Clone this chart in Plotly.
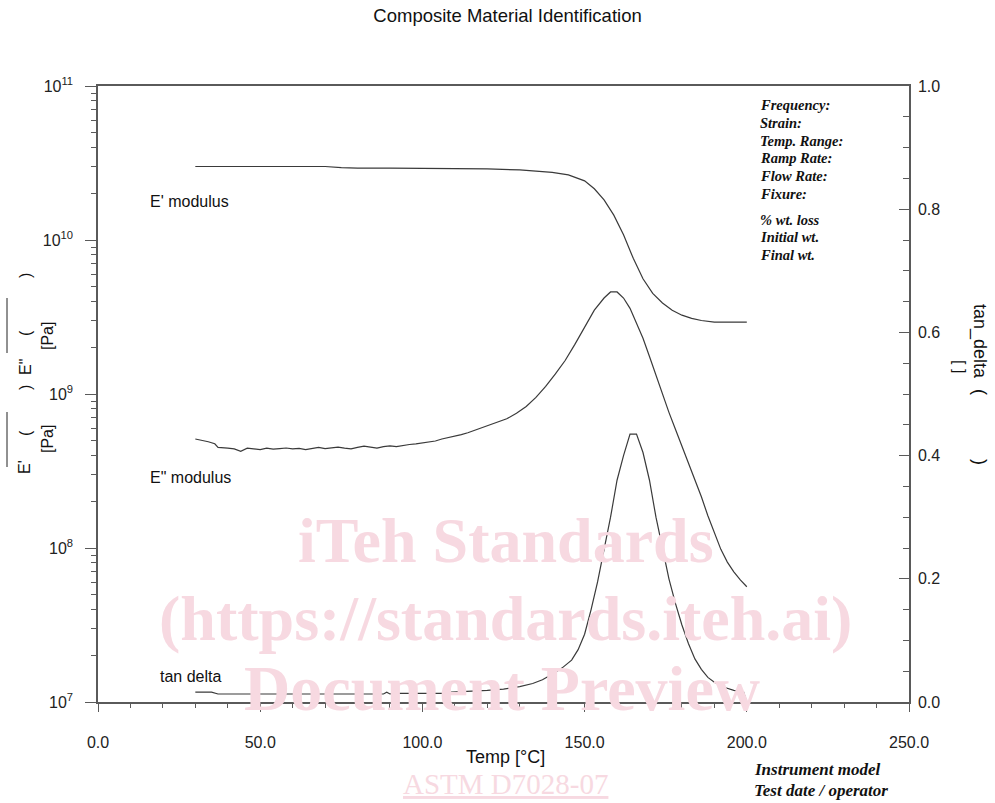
import plotly.graph_objects as go

# ---------------- data ----------------
temp_ep = [30, 40, 50, 60, 70, 75, 80, 90, 100, 110, 120, 130, 135, 140, 145, 150, 153, 156,
           159, 162, 165, 168, 171, 174, 177, 180, 183, 186, 190, 195, 200]
e_prime = [3.0e10, 3.0e10, 3.0e10, 3.0e10, 3.0e10, 2.95e10, 2.93e10, 2.93e10, 2.92e10, 2.92e10,
           2.9e10, 2.85e10, 2.8e10, 2.75e10, 2.65e10, 2.42e10, 2.15e10, 1.82e10, 1.45e10, 1.08e10,
           7.6e9, 5.6e9, 4.5e9, 3.9e9, 3.5e9, 3.25e9, 3.1e9, 3.0e9, 2.93e9, 2.93e9, 2.93e9]

temp_epp = [30, 32, 34, 36, 37, 40, 42, 44, 46, 48, 50, 52, 54, 56, 58, 60, 62, 64, 66, 68, 70,
            72, 74, 76, 78, 80, 82, 84, 86, 88, 90, 92, 94, 96, 98, 100, 102, 104, 106, 108, 110,
            112, 114, 116, 118, 120, 123, 126, 129, 132, 135, 138, 141, 144, 147, 150, 153, 156,
            158, 160, 162, 164, 166, 168, 170, 172, 174, 176, 178, 180, 182, 184, 186, 188, 190,
            192, 194, 196, 198, 200]
e_dprime = [5.1e8, 5.0e8, 4.9e8, 4.75e8, 4.5e8, 4.45e8, 4.4e8, 4.25e8, 4.45e8, 4.4e8, 4.35e8,
            4.45e8, 4.38e8, 4.42e8, 4.46e8, 4.4e8, 4.43e8, 4.36e8, 4.45e8, 4.5e8, 4.42e8, 4.47e8,
            4.52e8, 4.45e8, 4.4e8, 4.5e8, 4.58e8, 4.52e8, 4.45e8, 4.55e8, 4.6e8, 4.55e8, 4.65e8,
            4.7e8, 4.75e8, 4.8e8, 4.9e8, 4.95e8, 5.1e8, 5.2e8, 5.35e8, 5.45e8, 5.6e8, 5.8e8,
            5.95e8, 6.2e8, 6.5e8, 6.9e8, 7.5e8, 8.3e8, 9.5e8, 1.12e9, 1.35e9, 1.65e9, 2.1e9,
            2.7e9, 3.5e9, 4.2e9, 4.6e9, 4.6e9, 4.2e9, 3.6e9, 2.9e9, 2.3e9, 1.75e9, 1.32e9, 1.0e9,
            7.6e8, 5.9e8, 4.6e8, 3.6e8, 2.8e8, 2.15e8, 1.62e8, 1.25e8, 9.8e7, 8.1e7, 7.0e7,
            6.2e7, 5.6e7]

temp_tan = [30, 35, 37, 40, 50, 60, 70, 80, 88, 89, 90, 91, 100, 108, 109, 115, 120, 125, 130,
            134, 137, 140, 143, 146, 148, 150, 152, 154, 156, 158, 160, 162, 164, 166, 168, 170,
            172, 174, 176, 178, 180, 182, 184, 186, 188, 190, 193, 196, 199, 200]
tan_delta = [0.016, 0.016, 0.013, 0.013, 0.013, 0.013, 0.013, 0.013, 0.013, 0.016, 0.013, 0.014,
             0.014, 0.014, 0.016, 0.017, 0.019, 0.021, 0.025, 0.030, 0.036, 0.045, 0.055, 0.068,
             0.085, 0.110, 0.150, 0.195, 0.245, 0.300, 0.360, 0.400, 0.435, 0.435, 0.405, 0.360,
             0.300, 0.250, 0.200, 0.160, 0.125, 0.095, 0.070, 0.053, 0.040, 0.032, 0.024, 0.019,
             0.016, 0.000]

x_ticks = [0, 50, 100, 150, 200, 250]
x_tick_labels = ["0.0", "50.0", "100.0", "150.0", "200.0", "250.0"]
y_ticks = [1e7, 1e8, 1e9, 1e10, 1e11]
y_tick_labels = ["10<sup>7</sup>", "10<sup>8</sup>", "10<sup>9</sup>", "10<sup>10</sup>", "10<sup>11</sup>"]
y2_ticks = [0.0, 0.2, 0.4, 0.6, 0.8, 1.0]
y2_tick_labels = ["0.0", "0.2", "0.4", "0.6", "0.8", "1.0"]
info_lines = ["Frequency:", "Strain:", "Temp. Range:", "Ramp Rate:", "Flow Rate:", "Fixure:"]
info_lines2 = ["% wt. loss", "Initial wt.", "Final wt."]

# ---------------- layout helpers ----------------
W, H = 995, 803
X0, X1, Y0, Y1 = 98, 909, 86, 702


def px(x):
    return (x - X0) / (X1 - X0)


def py(y):
    return (Y1 - y) / (Y1 - Y0)


minor_log = [k * 10 ** d for d in range(7, 11) for k in range(2, 10)]
AX = "#5a5a5a"
LINE = "#3a3a3a"
SANS = "Liberation Sans, Arial, sans-serif"
SERIF = "Liberation Serif, Times New Roman, serif"

fig = go.Figure()
fig.add_trace(go.Scatter(x=temp_ep, y=e_prime, mode="lines", line=dict(color=LINE, width=1.2),
                         xaxis="x", yaxis="y", showlegend=False))
fig.add_trace(go.Scatter(x=temp_epp, y=e_dprime, mode="lines", line=dict(color=LINE, width=1.2),
                         xaxis="x", yaxis="y", showlegend=False))
fig.add_trace(go.Scatter(x=temp_tan, y=tan_delta, mode="lines", line=dict(color=LINE, width=1.2),
                         xaxis="x", yaxis="y2", showlegend=False))

tickfont = dict(family=SANS, size=16, color="#222")

fig.update_layout(
    width=W, height=H,
    margin=dict(l=X0, r=W - X1, t=Y0, b=H - Y1),
    paper_bgcolor="white", plot_bgcolor="white",
    showlegend=False,
    title=dict(text="Composite Material Identification", x=0.505, xref="paper", y=1 - 16 / H,
               yref="container", xanchor="center", yanchor="middle",
               font=dict(family=SANS, size=18.5, color="#111")),
    xaxis=dict(range=[0, 250], tickvals=x_ticks, ticktext=x_tick_labels, ticks="outside",
               ticklen=8, tickcolor=AX, tickwidth=1.2, showline=True, linecolor=AX, linewidth=1.5,
               mirror=True, showgrid=False, zeroline=False, tickfont=tickfont,
               ticklabelstandoff=17,
               minor=dict(dtick=10, ticks="outside", ticklen=4, tickcolor=AX, tickwidth=1)),
    xaxis2=dict(range=[0, 250], overlaying="x", anchor="y", side="bottom", tickvals=x_ticks,
                ticks="inside", ticklen=8, tickcolor=AX, tickwidth=1.2, showticklabels=False,
                showline=False, showgrid=False, zeroline=False,
                minor=dict(dtick=10, ticks="inside", ticklen=4, tickcolor=AX, tickwidth=1)),
    yaxis=dict(type="log", range=[7, 11], tickvals=y_ticks, ticktext=y_tick_labels,
               ticks="outside", ticklen=11, tickcolor=AX, tickwidth=1.2, showline=True,
               linecolor=AX, linewidth=1.5, showgrid=False, zeroline=False, tickfont=tickfont,
               ticklabelstandoff=9,
               minor=dict(tickvals=minor_log, ticks="outside", ticklen=5, tickcolor=AX,
                          tickwidth=1)),
    yaxis3=dict(type="log", range=[7, 11], overlaying="y", anchor="x", side="left",
                tickvals=y_ticks, ticks="inside", ticklen=11, tickcolor=AX, tickwidth=1.2,
                showticklabels=False, showline=False, showgrid=False, zeroline=False,
                minor=dict(tickvals=minor_log, ticks="inside", ticklen=5, tickcolor=AX,
                           tickwidth=1)),
    yaxis2=dict(range=[0, 1], overlaying="y", anchor="x", side="right", tickvals=y2_ticks,
                ticktext=y2_tick_labels, ticks="inside", ticklen=10, tickcolor=AX, tickwidth=1.2,
                showline=True, linecolor=AX, linewidth=1.5, showgrid=False, zeroline=False,
                tickfont=tickfont, ticklabelstandoff=4,
                minor=dict(dtick=0.05, ticks="inside", ticklen=6, tickcolor=AX, tickwidth=1)),
)

ann = []


def text(x, y, t, size=16, family=SANS, color="#111", angle=0, xanchor="center",
         yanchor="middle"):
    ann.append(dict(x=px(x), y=py(y), xref="paper", yref="paper", text=t, showarrow=False,
                    font=dict(family=family, size=size, color=color), textangle=angle,
                    xanchor=xanchor, yanchor=yanchor))


# watermark
WM = "#f7d9e1"
text(506, 540, "<b>iTeh Standards</b>", size=64, family=SERIF, color=WM)
text(506, 618, "<b>(https://standards.iteh.ai)</b>", size=64, family=SERIF, color=WM)
text(502, 688, "<b>Document Preview</b>", size=64, family=SERIF, color=WM)
text(505, 784, "<u>ASTM D7028-07</u>", size=29, family=SERIF, color=WM)

# curve labels
text(148, 201, "E' modulus", xanchor="left")
text(148, 477, "E\" modulus", xanchor="left")
text(158, 676, "tan delta", xanchor="left")

# x axis title
text(505, 757, "Temp [°C]", size=18)

# left axis title pieces
text(25, 467, "E'", angle=-90)
text(25, 433, "(", angle=-90)
text(25, 388, ")", angle=-90)
text(25, 367, "E\"", angle=-90)
text(25, 333, "(", angle=-90)
text(25, 276, ")", angle=-90)
text(47, 439, "[Pa]", angle=-90)
text(47, 336, "[Pa]", angle=-90)

# right axis title pieces
text(980, 341, "tan_delta", size=18, angle=90)
text(980, 392, "(", size=18, angle=90)
text(980, 462, ")", size=18, angle=90)
text(960, 367, "[ ]", angle=90)

# info block
for i, s in enumerate(info_lines):
    text(758, 105 + 17.8 * i, "<b><i>%s</i></b>" % s, size=14.5, family=SERIF, xanchor="left")
for i, s in enumerate(info_lines2):
    text(758, 220 + 17.5 * i, "<b><i>%s</i></b>" % s, size=14.5, family=SERIF, xanchor="left")

text(752, 769, "<b><i>Instrument model</i></b>", size=17, family=SERIF, xanchor="left")
text(752, 790, "<b><i>Test date / operator</i></b>", size=17, family=SERIF, xanchor="left")

fig.update_layout(annotations=ann)

# overlines of the left axis title
shapes = []
for ya, yb in [(412, 467), (298, 353)]:
    shapes.append(dict(type="line", xref="paper", yref="paper", x0=px(7), x1=px(7),
                       y0=py(ya), y1=py(yb), line=dict(color="#222", width=1)))
fig.update_layout(shapes=shapes)

fig.write_html("out.html", config={"displayModeBar": False},
               post_script="document.body.style.margin='0';")
